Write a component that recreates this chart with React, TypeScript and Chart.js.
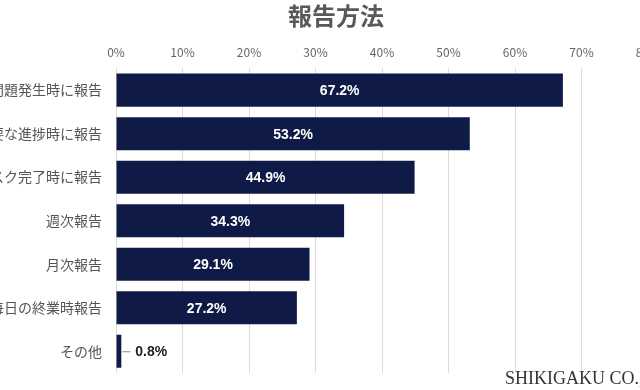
import React, { useEffect, useRef } from "react";
import { Chart, registerables } from "chart.js";

Chart.register(...registerables);

const title = "報告方法";
const categories = [
  "問題発生時に報告",
  "重要な進捗時に報告",
  "タスク完了時に報告",
  "週次報告",
  "月次報告",
  "毎日の終業時報告",
  "その他",
];
const values = [67.2, 53.2, 44.9, 34.3, 29.1, 27.2, 0.8];
const axisMax = 80;
const axisStep = 10;
const watermark = "SHIKIGAKU CO.,LTD.";

const BAR_COLOR = "#101a47";
const FONT = "'Noto Sans CJK JP', 'Noto Sans', sans-serif";
const CANVAS_W = 712;
const CANVAS_H = 390;

const titlePlugin = {
  id: "centeredTitle",
  afterDraw(chart: any) {
    const ctx = chart.ctx;
    ctx.save();
    ctx.font = `bold 24px ${FONT}`;
    ctx.fillStyle = "#595959";
    ctx.textAlign = "center";
    ctx.textBaseline = "middle";
    ctx.fillText(title, chart.width / 2, 15.5);
    ctx.restore();
  },
};

const labelPlugin = {
  id: "barLabels",
  afterDatasetsDraw(chart: any) {
    const ctx = chart.ctx;
    const meta = chart.getDatasetMeta(0);
    ctx.save();
    ctx.font = `bold 14px 'Liberation Sans', 'Noto Sans', sans-serif`;
    ctx.textBaseline = "middle";
    meta.data.forEach((bar: any, i: number) => {
      const v = values[i];
      const text = v.toFixed(1) + "%";
      if (v > 5) {
        ctx.fillStyle = "#ffffff";
        ctx.textAlign = "center";
        ctx.fillText(text, (bar.x + bar.base) / 2, bar.y + 1);
      } else {
        ctx.strokeStyle = "#8a8a8a";
        ctx.lineWidth = 1;
        ctx.beginPath();
        ctx.moveTo(bar.x + 1, bar.y + 0.5);
        ctx.lineTo(bar.x + 9, bar.y + 0.5);
        ctx.stroke();
        ctx.fillStyle = "#222222";
        ctx.textAlign = "left";
        ctx.fillText(text, bar.x + 14, bar.y + 1);
      }
    });
    ctx.restore();
  },
};

export default function App() {
  const ref = useRef<HTMLCanvasElement | null>(null);

  useEffect(() => {
    if (!ref.current) return;
    const chart = new Chart(ref.current, {
      type: "bar",
      data: {
        labels: categories,
        datasets: [
          {
            data: values,
            backgroundColor: BAR_COLOR,
            borderWidth: 0,
            categoryPercentage: 0.8,
            barPercentage: 0.95,
          },
        ],
      },
      options: {
        indexAxis: "y",
        responsive: false,
        animation: false,
        layout: { padding: { left: 0, right: 44, top: 36, bottom: 17 } },
        plugins: {
          legend: { display: false },
          tooltip: { enabled: false },
          title: { display: false },
        },
        scales: {
          x: {
            position: "top",
            min: 0,
            max: axisMax,
            border: { display: false },
            grid: { color: "#dcdcdc", lineWidth: 1, drawTicks: false },
            ticks: {
              stepSize: axisStep,
              padding: 9,
              color: "#666666",
              font: { family: FONT, size: 12 },
              callback: (v: any) => v + "%",
            },
          },
          y: {
            border: { display: false },
            grid: { display: false, drawTicks: false },
            ticks: {
              padding: 14,
              color: "#555555",
              font: { family: FONT, size: 14 },
            },
            afterFit: (scale: any) => {
              scale.width = 136;
              scale.paddingTop = 0;
              scale.paddingBottom = 0;
            },
          },
        },
      },
      plugins: [labelPlugin, titlePlugin],
    });
    return () => chart.destroy();
  }, []);

  return (
    <div
      style={{
        position: "fixed",
        left: 0,
        top: 0,
        width: 640,
        height: 390,
        overflow: "hidden",
        background: "#ffffff",
      }}
    >
      <div style={{ position: "absolute", left: -20, top: 0, width: CANVAS_W, height: CANVAS_H }}>
        <canvas
          ref={ref}
          width={CANVAS_W}
          height={CANVAS_H}
          style={{ width: CANVAS_W, height: CANVAS_H, display: "block" }}
        />
      </div>
      <div
        style={{
          position: "absolute",
          left: 505,
          top: 367,
          fontFamily: "'Liberation Serif', 'DejaVu Serif', serif",
          fontSize: 18,
          color: "#333333",
          whiteSpace: "nowrap",
          lineHeight: "22px",
        }}
      >
        {watermark}
      </div>
    </div>
  );
}
